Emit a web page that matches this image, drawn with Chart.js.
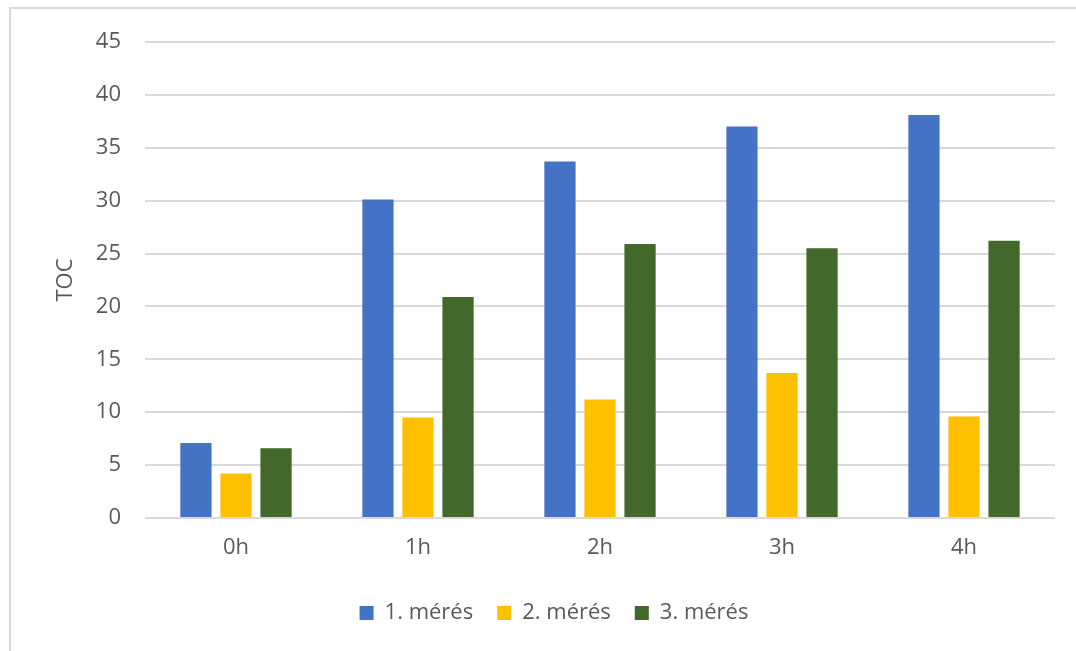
<!DOCTYPE html>
<html>
<head>
<meta charset="utf-8">
<script src="https://cdn.jsdelivr.net/npm/chart.js@4/dist/chart.umd.min.js"></script>
<style>
  html, body { margin: 0; padding: 0; background: #ffffff; }
  #wrap { position: relative; width: 1076px; height: 651px; overflow: hidden; }
  #frame { position: absolute; left: 9px; top: 7px; width: 1200px; height: 800px;
           border-left: 2px solid #d9d9d9; border-top: 2px solid #d9d9d9; box-sizing: border-box; }
  #chart { position: absolute; left: 0; top: 0; }
</style>
</head>
<body>
<div id="wrap">
  <div id="frame"></div>
  <canvas id="chart" width="1076" height="651"></canvas>
</div>
<script>
const categories = ['0h', '1h', '2h', '3h', '4h'];
const seriesNames = ['1. mérés', '2. mérés', '3. mérés'];
const meres1 = [7.1, 30.1, 33.7, 37.0, 38.1];
const meres2 = [4.2, 9.5, 11.2, 13.7, 9.6];
const meres3 = [6.6, 20.9, 25.9, 25.5, 26.2];
const yTicks = [0, 5, 10, 15, 20, 25, 30, 35, 40, 45];

const textColor = '#595959';
const gridColor = '#d9d9d9';
const fontFamily = '"Open Sans", "DejaVu Sans", sans-serif';
const colors = ['#4472C4', '#FFC000', '#43682B'];

const values = [meres1, meres2, meres3];

new Chart(document.getElementById('chart'), {
  type: 'bar',
  data: {
    labels: categories,
    datasets: seriesNames.map((name, i) => ({
      label: name,
      data: values[i],
      backgroundColor: colors[i],
      borderWidth: 0,
      categoryPercentage: 0.66,
      barPercentage: 0.78
    }))
  },
  options: {
    responsive: false,
    animation: false,
    layout: { padding: { left: 53, right: 21, top: 42, bottom: 17 } },
    plugins: {
      tooltip: { enabled: false },
      legend: {
        position: 'bottom',
        labels: {
          color: textColor,
          font: { family: fontFamily, size: 22 },
          boxWidth: 14,
          boxHeight: 14,
          padding: 24
        }
      }
    },
    scales: {
      x: {
        grid: { display: false },
        border: { display: false },
        ticks: { color: textColor, font: { family: fontFamily, size: 22 }, padding: 9 },
        afterFit: s => { s.height = 60; }
      },
      y: {
        min: 0,
        max: 45,
        afterBuildTicks: s => { s.ticks = yTicks.map(v => ({ value: v })); },
        grid: { color: gridColor, lineWidth: 2, drawTicks: false },
        border: { display: false },
        ticks: { color: textColor, font: { family: fontFamily, size: 22 }, padding: 24 },
        title: {
          display: true,
          text: 'TOC',
          color: textColor,
          font: { family: fontFamily, size: 22 },
          padding: { top: 0, bottom: 0 }
        },
        afterFit: s => { s.width = 92; }
      }
    }
  }
});
</script>
</body>
</html>
